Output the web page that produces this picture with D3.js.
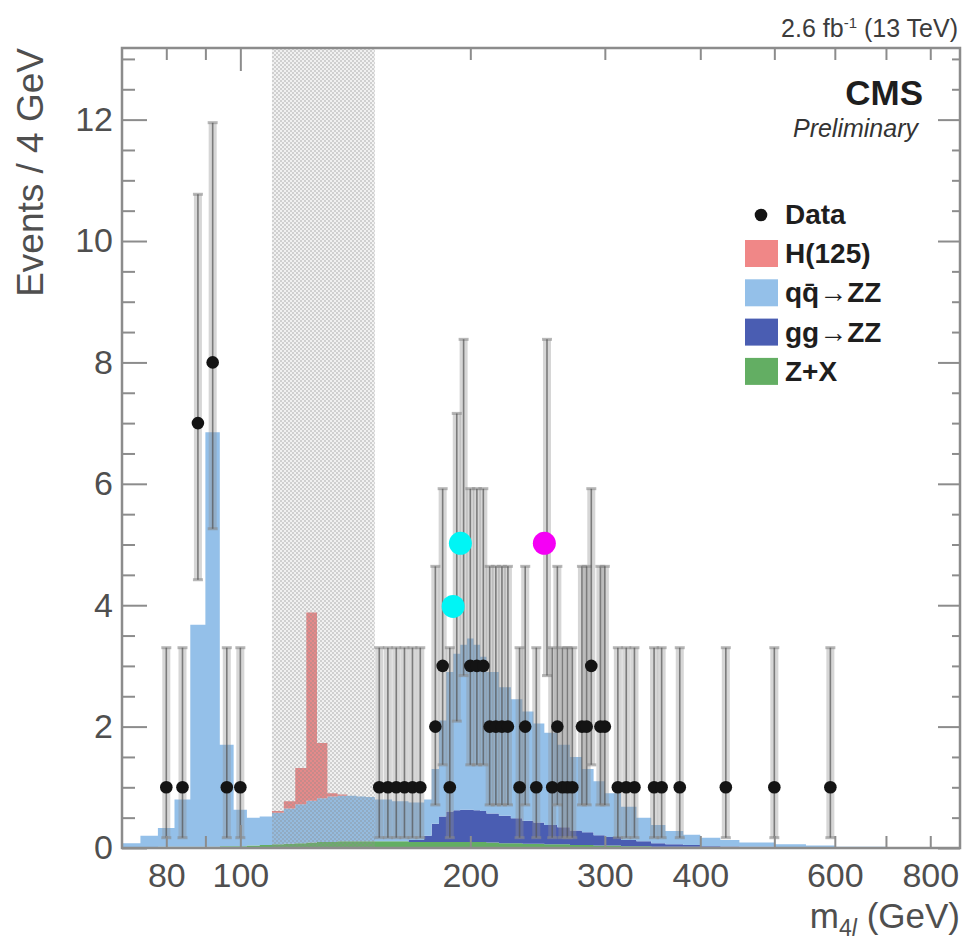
<!DOCTYPE html>
<html><head><meta charset="utf-8">
<script src="https://cdn.jsdelivr.net/npm/d3@7"></script>
<style>
body{margin:0;background:#fff}
svg{display:block}
text{font-family:"Liberation Sans",Arial,Helvetica,sans-serif}
</style>
</head><body>
<svg id="c" width="966" height="941"></svg>
<script>
// ---------------- data ----------------
// MC bin edges (GeV) and per-component expected yields (events per bin)
const mcEdges = [70,74,78,82,86,90,94,98,102,106,110,114,118,122,126,130,134,138,142,146,150,
  158,166,174,178,182,186,190,194,198,202,206,210,218,226,234,242,250,260,270,280,290,300,
  315,330,345,360,380,400,425,450,500,550,600,700,800,875];
const zxYield = [0.01,0.01,0.02,0.02,0.02,0.02,0.03,0.03,
  0.04,0.05,0.06,0.07,0.08,0.09,0.10,0.10,0.11,0.11,0.11,0.11,
  0.11,0.11,0.10,
  0.10,0.10,0.10,0.10,0.10,0.10,0.10,0.10,0.10,
  0.09,0.08,0.08,0.07,0.07,
  0.06,0.06,0.05,0.05,0.04,
  0.04,0.03,0.03,0.02,0.02,0.02,
  0.01,0.01,0.01,0.01,0,0,0,0];
const ggYield = [0,0,0,0,0,0,0,0,0,0,0,0,0,0,0,0,0,0,0,0,0,0,
  0.03,0.10,0.30,0.42,0.50,0.52,0.53,0.53,0.52,0.51,
  0.48,0.45,0.41,0.38,0.35,0.32,0.28,0.24,0.21,0.17,
  0.14,0.10,0.08,0.06,0.04,0.03,0.02,0.015,0.01,0.005,
  0,0,0,0];
const qqYield = [0.07,0.19,0.31,0.78,3.66,6.83,1.67,0.60,0.46,0.47,
  0.52,0.58,0.64,0.69,0.72,0.75,0.75,0.75,0.74,0.73,
  0.69,0.66,0.62,0.60,0.90,1.58,2.30,2.58,2.72,2.82,
  2.73,2.54,2.33,2.12,1.96,1.80,1.63,1.52,1.36,1.21,
  1.04,0.89,0.72,0.55,0.39,0.30,0.22,0.17,0.14,0.105,
  0.07,0.045,0.04,0.02,0.01,0.005];
const hYield = [0,0,0,0,0,0,0,0,0,0,
  0.03,0.12,0.60,3.10,0.91,0.05,0.02,
  0,0,0,0,0,0,0,0,0,0,0,0,0,0,0,0,0,0,0,0,0,0,0,0,0,0,0,0,0,0,0,0,0,0,0,0,0,0,0];

// observed data: bin centres (GeV) and counts
const dataMass = [80,84,88,92,96,100,152,156,160,164,168,172,180,184,188,192,196,200,204,208,
  212,216,220,224,232,236,244,252,256,260,264,268,272,280,284,288,296,300,312,320,328,348,356,376,432,500,592];
const dataCount = [1,1,7,8,1,1,1,1,1,1,1,1,2,3,1,4,5,3,3,3,
  2,2,2,2,1,2,1,5,1,2,1,1,1,2,2,3,2,2,1,1,1,1,1,1,1,1,1];

// Poisson (Garwood) error band ends per observed count
const poissonN  = [1,2,3,4,5,7,8];
const poissonLo = [0.17,0.71,1.37,2.09,2.84,4.42,5.26];
const poissonHi = [3.30,4.64,5.92,7.16,8.38,10.77,11.95];

// highlighted events (annotation dots)
const markMass  = [189.9,194.1,250.0];
const markCount = [3.98,5.02,5.02];
const markKind  = ["cyan","cyan","magenta"];

// blinded window
const blindRange = [110,150];

// axis ticks
const xTicks = [80,90,100,200,300,400,500,600,700,800];
const xLabels = [80,100,200,300,400,600,800];
const yMajor = [0,2,4,6,8,10,12];
const yMinor = [0.5,1,1.5,2.5,3,3.5,4.5,5,5.5,6.5,7,7.5,8.5,9,9.5,10.5,11,11.5,12.5,13];

const legendItems = [
  {key:"h",  label:"H(125)"},
  {key:"qq", label:"qq\u0304\u2192ZZ"},
  {key:"gg", label:"gg\u2192ZZ"},
  {key:"zx", label:"Z+X"}
];

// ---------------- style ----------------
const colors = {zx:"#63ae63", gg:"#4a5db2", qq:"#94c0e9", h:"#f08787"};
const markColors = {cyan:"#00f5f5", magenta:"#f500f5"};
const axisCol = "#8c8c8c", textCol = "#4f4f4f";

const svg = d3.select("#c");
const L=122, R=960, T=48, B=848;
const x = d3.scaleLog().domain([70,875]).range([L,R]);
const y = d3.scaleLinear().domain([0,13.18]).range([B,T]);

const defs = svg.append("defs");
defs.append("clipPath").attr("id","clip").append("rect")
  .attr("x",L).attr("y",T).attr("width",R-L).attr("height",B-T);
const pat = defs.append("pattern").attr("id","hatch").attr("patternUnits","userSpaceOnUse")
  .attr("width",4).attr("height",4);
pat.append("rect").attr("width",4).attr("height",4).attr("fill","#9a9a9a").attr("opacity",0.14);
pat.append("rect").attr("width",2).attr("height",2).attr("fill","#8a8a8a").attr("opacity",0.32);
pat.append("rect").attr("x",2).attr("y",2).attr("width",2).attr("height",2).attr("fill","#8a8a8a").attr("opacity",0.32);

const plot = svg.append("g").attr("clip-path","url(#clip)");

// ---- stacked MC ----
const rows = zxYield.map((_,i)=>({lo:mcEdges[i], hi:mcEdges[i+1],
  zx:zxYield[i], gg:ggYield[i], qq:qqYield[i], h:hYield[i]}));
const series = d3.stack().keys(["zx","gg","qq","h"])(rows);
const area = d3.area().x(d=>x(d.x)).y0(d=>y(d.y0)).y1(d=>y(d.y1)).curve(d3.curveStepAfter);
series.forEach(s=>{
  const pts = s.map((d,i)=>({x:rows[i].lo, y0:d[0], y1:d[1]}));
  const last = s[s.length-1];
  pts.push({x:rows[rows.length-1].hi, y0:last[0], y1:last[1]});
  plot.append("path").datum(pts).attr("d",area).attr("fill",colors[s.key]);
});

// ---- blinded region ----
plot.append("rect").attr("x",x(blindRange[0])).attr("width",x(blindRange[1])-x(blindRange[0]))
  .attr("y",T).attr("height",B-T).attr("fill","url(#hatch)");

// ---- data error bars ----
const pts = dataMass.map((m,i)=>{
  const k = poissonN.indexOf(dataCount[i]);
  return {m, n:dataCount[i], lo:poissonLo[k], hi:poissonHi[k]};
});
const eb = plot.append("g");
pts.forEach(p=>{
  const cx = x(p.m);
  const g = eb.append("g");
  g.append("line").attr("x1",cx).attr("x2",cx).attr("y1",y(p.lo)).attr("y2",y(p.hi))
    .attr("stroke","#8f8f8f").attr("stroke-width",8).attr("opacity",0.36);
  g.append("line").attr("x1",cx-5).attr("x2",cx+5).attr("y1",y(p.hi)).attr("y2",y(p.hi))
    .attr("stroke","#8a8a8a").attr("stroke-width",3).attr("opacity",0.6);
  g.append("line").attr("x1",cx-5).attr("x2",cx+5).attr("y1",y(p.lo)).attr("y2",y(p.lo))
    .attr("stroke","#8a8a8a").attr("stroke-width",3).attr("opacity",0.6);
  g.append("line").attr("x1",cx).attr("x2",cx).attr("y1",y(p.lo)).attr("y2",y(p.hi))
    .attr("stroke","#555").attr("stroke-width",1.6).attr("opacity",0.7);
});
plot.append("g").selectAll("circle").data(pts).join("circle")
  .attr("cx",d=>x(d.m)).attr("cy",d=>y(d.n)).attr("r",6.3).attr("fill","#141414");

// ---- highlighted events ----
plot.append("g").selectAll("circle").data(markMass.map((m,i)=>({m, n:markCount[i], k:markKind[i]})))
  .join("circle").attr("cx",d=>x(d.m)).attr("cy",d=>y(d.n)).attr("r",11.5)
  .attr("fill",d=>markColors[d.k]);

// ---- axes ----
function styleAxis(g){
  g.select(".domain").remove();
  g.selectAll(".tick line").attr("stroke",axisCol).attr("stroke-width",2);
  g.selectAll("text").attr("fill",textCol).attr("font-size",34)
    .attr("font-family",'"Liberation Sans",Arial,Helvetica,sans-serif');
  g.attr("font-family",null).attr("font-size",null);
}
const fmtX = d => xLabels.includes(d) ? String(d) : "";
const gb = svg.append("g").attr("transform",`translate(0,${B})`)
  .call(d3.axisBottom(x).tickValues(xTicks).tickSize(-12).tickPadding(15).tickFormat(fmtX));
styleAxis(gb);
gb.selectAll(".tick").filter(d=>d===100).select("line").attr("y2",-23);
const gt = svg.append("g").attr("transform",`translate(0,${T})`)
  .call(d3.axisTop(x).tickValues(xTicks).tickSize(-12).tickFormat(()=>""));
styleAxis(gt);
gt.selectAll(".tick").filter(d=>d===100).select("line").attr("y2",23);

const gl = svg.append("g").attr("transform",`translate(${L},0)`)
  .call(d3.axisLeft(y).tickValues(yMajor).tickSize(-25).tickPadding(9).tickFormat(d3.format("d")));
styleAxis(gl);
const glm = svg.append("g").attr("transform",`translate(${L},0)`)
  .call(d3.axisLeft(y).tickValues(yMinor).tickSize(-13).tickFormat(()=>""));
styleAxis(glm);
const gr = svg.append("g").attr("transform",`translate(${R},0)`)
  .call(d3.axisRight(y).tickValues(yMajor).tickSize(-22).tickFormat(()=>""));
styleAxis(gr);
const grm = svg.append("g").attr("transform",`translate(${R},0)`)
  .call(d3.axisRight(y).tickValues(yMinor).tickSize(-8).tickFormat(()=>""));
styleAxis(grm);

svg.append("rect").attr("x",L).attr("y",T).attr("width",R-L).attr("height",B-T)
  .attr("fill","none").attr("stroke",axisCol).attr("stroke-width",2.5);

// ---- titles ----
svg.append("text").attr("transform",`translate(43,${T}) rotate(-90)`)
  .attr("text-anchor","end").attr("font-size",37).attr("fill",textCol).text("Events / 4 GeV");

const xt = svg.append("text").attr("x",R).attr("y",928).attr("text-anchor","end")
  .attr("font-size",35).attr("fill",textCol);
xt.append("tspan").text("m");
xt.append("tspan").attr("dy",8).attr("font-size",23).text("4");
xt.append("tspan").attr("font-size",23).attr("font-style","italic").text("l");
xt.append("tspan").attr("dy",-8).text(" (GeV)");

const lumi = svg.append("text").attr("x",958).attr("y",37).attr("text-anchor","end")
  .attr("font-size",25).attr("fill","#3c3c3c");
lumi.append("tspan").text("2.6 fb");
lumi.append("tspan").attr("dy",-9).attr("font-size",15).text("-1");
lumi.append("tspan").attr("dy",9).text(" (13 TeV)");

svg.append("text").attr("x",923).attr("y",105).attr("text-anchor","end")
  .attr("font-size",35).attr("font-weight","bold").attr("fill","#1e1e1e").text("CMS");
svg.append("text").attr("x",918).attr("y",137).attr("text-anchor","end")
  .attr("font-size",25).attr("font-style","italic").attr("fill","#333").text("Preliminary");

// ---- legend ----
const lg = svg.append("g");
lg.append("circle").attr("cx",761).attr("cy",215).attr("r",6.3).attr("fill","#141414");
lg.append("text").attr("x",785).attr("y",224).attr("font-size",28).attr("font-weight","bold")
  .attr("fill","#1e1e1e").text("Data");
legendItems.forEach((it,i)=>{
  const top = 240 + i*39.3;
  lg.append("rect").attr("x",745).attr("y",top).attr("width",33).attr("height",27).attr("fill",colors[it.key]);
  lg.append("text").attr("x",785).attr("y",top+23).attr("font-size",28).attr("font-weight","bold")
    .attr("fill","#1e1e1e").text(it.label);
});
</script>
</body></html>
